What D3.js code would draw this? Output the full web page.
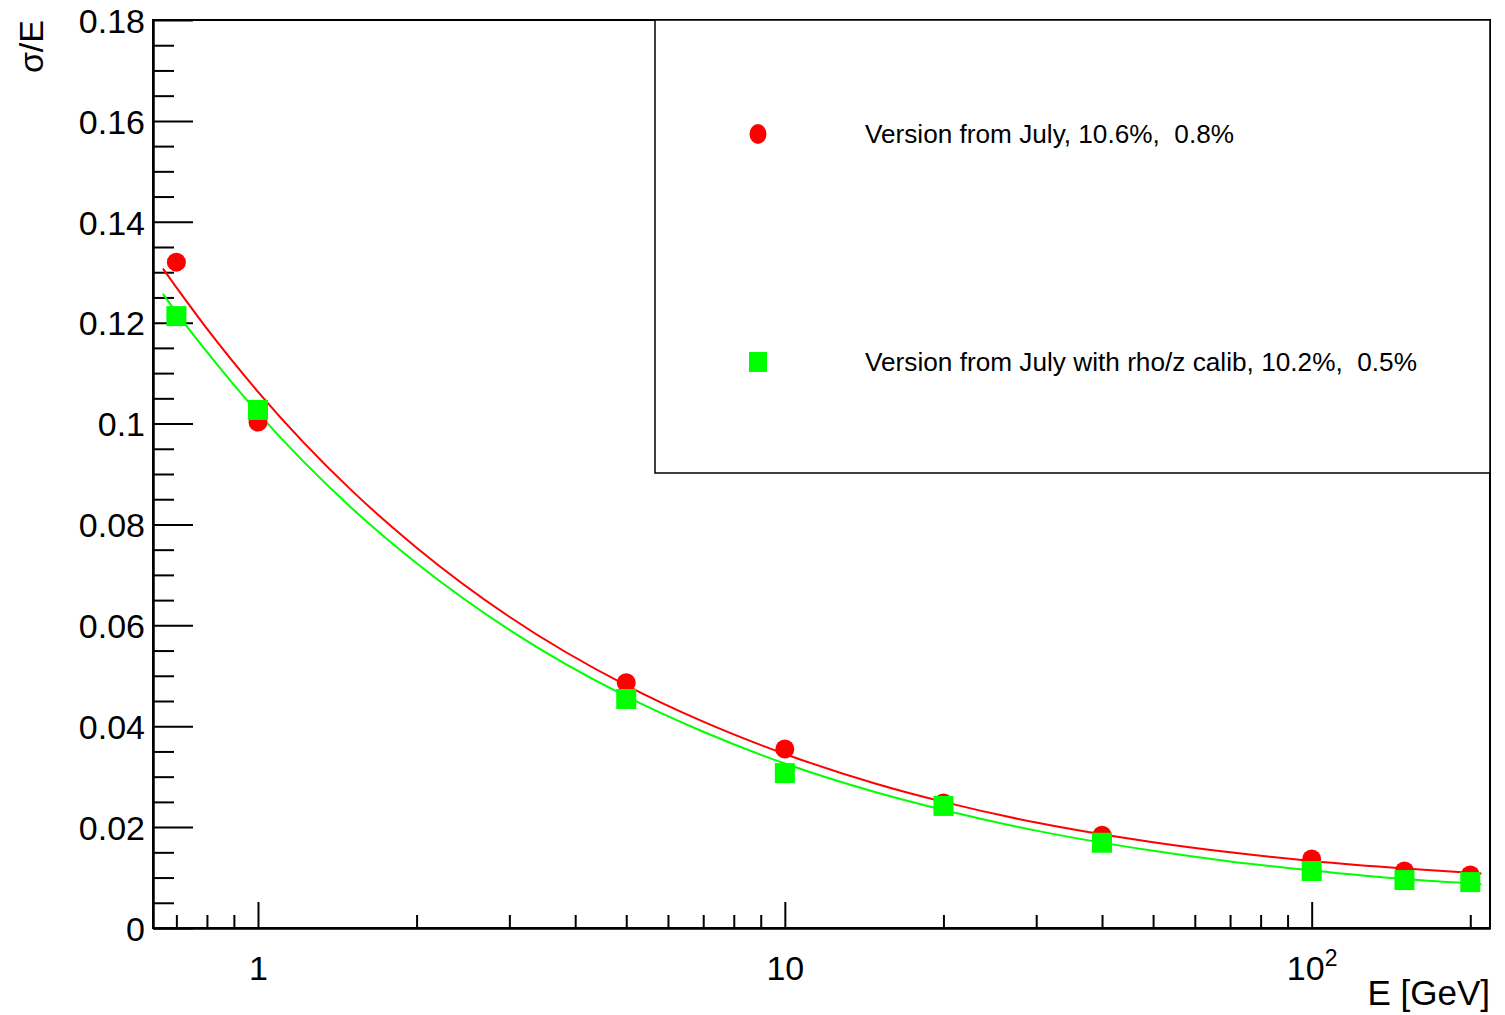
<!DOCTYPE html>
<html>
<head>
    <title>sigma/E vs E</title>
    <script src="https://d3js.org/d3.v7.min.js"></script>
    <style>
        body { margin: 0; background: #fff; }
        text { font-family: "Liberation Sans", Arial, Helvetica, sans-serif; fill: #000; }
        .axis path, .axis line { stroke: #000; stroke-width: 2; }
        .leg text { white-space: pre; }
    </style>
</head>
<body>
    <div id="chart"></div>
    <script>
        // beam energies [GeV]
        const energies = [0.7, 1, 5, 10, 20, 40, 100, 150, 200];
        const julyPoints = [0.1320, 0.1003, 0.0486, 0.0355, 0.0248, 0.0184, 0.0137, 0.0113, 0.0105];
        const rhozPoints = [0.1213, 0.1027, 0.0454, 0.0307, 0.0242, 0.0169, 0.0113, 0.0095, 0.0091];

        // fitted curves
        const curveE = [0.66, 0.7, 0.8, 1, 1.5, 2, 3, 5, 7, 10, 15, 20, 30, 50, 70, 100, 150, 210];
        const julyCurve = [0.1307, 0.1270, 0.1188, 0.1063, 0.0869, 0.0754, 0.0617, 0.0481, 0.0409, 0.0345, 0.0285, 0.0250, 0.0209, 0.0170, 0.0150, 0.0133, 0.0118, 0.0108];
        const rhozCurve = [0.1257, 0.1220, 0.1142, 0.1021, 0.0834, 0.0723, 0.0591, 0.0459, 0.0389, 0.0326, 0.0268, 0.0234, 0.0193, 0.0153, 0.0132, 0.0114, 0.0097, 0.0087];

        const legendLabels = ["Version from July, 10.6%,  0.8%", "Version from July with rho/z calib, 10.2%,  0.5%"];
        const colors = ["#ff0000", "#00ff00"];

        const yMajor = [0, 0.02, 0.04, 0.06, 0.08, 0.1, 0.12, 0.14, 0.16, 0.18];
        const yMajorLabels = ["0", "0.02", "0.04", "0.06", "0.08", "0.1", "0.12", "0.14", "0.16", "0.18"];
        const xMajor = [1, 10, 100];
        const xMinor = [0.7, 0.8, 0.9, 2, 3, 4, 5, 6, 7, 8, 9, 20, 30, 40, 50, 60, 70, 80, 90, 200];

        const W = 1505, H = 1015;
        const pLeft = 153, pRight = 1490, pTop = 20, pBottom = 928;

        const svg = d3.select("#chart").append("svg")
            .attr("width", W).attr("height", H);

        const x = d3.scaleLog().domain([0.632, 218]).range([pLeft, pRight]);
        const y = d3.scaleLinear().domain([0, 0.18]).range([pBottom, pTop]);

        // y axis: minor then major ticks pointing inward
        const yMinor = d3.range(0, 0.1801, 0.005).filter(v => Math.abs(v / 0.02 - Math.round(v / 0.02)) > 1e-6);
        svg.append("g").attr("class", "axis")
            .attr("transform", `translate(${pLeft},0)`)
            .call(d3.axisLeft(y).tickValues(yMinor).tickFormat("").tickSizeInner(-21).tickSizeOuter(0));
        svg.append("g").attr("class", "axis")
            .attr("transform", `translate(${pLeft},0)`)
            .call(d3.axisLeft(y).tickValues(yMajor).tickFormat((d, i) => yMajorLabels[i])
                .tickSizeInner(-40).tickSizeOuter(0).tickPadding(8))
            .call(g => g.selectAll("text").attr("font-size", 34).attr("dy", "0.36em"));

        // x axis
        svg.append("g").attr("class", "axis")
            .attr("transform", `translate(0,${pBottom})`)
            .call(d3.axisBottom(x).tickValues(xMinor).tickFormat("").tickSizeInner(-13).tickSizeOuter(0));
        const xg = svg.append("g").attr("class", "axis")
            .attr("transform", `translate(0,${pBottom})`)
            .call(d3.axisBottom(x).tickValues(xMajor).tickFormat("").tickSizeInner(-26).tickSizeOuter(0));
        xg.selectAll(".tick").append("text")
            .attr("y", 52).attr("text-anchor", "middle").attr("font-size", 34)
            .each(function (d) {
                const t = d3.select(this);
                if (d >= 100) {
                    t.append("tspan").text("10");
                    t.append("tspan").attr("font-size", 23).attr("dy", -14).text(Math.round(Math.log10(d)));
                } else {
                    t.text(d);
                }
            });

        // frame
        svg.append("rect")
            .attr("x", pLeft).attr("y", pTop).attr("width", pRight - pLeft).attr("height", pBottom - pTop)
            .attr("fill", "none").attr("stroke", "#000").attr("stroke-width", 2);

        // axis titles
        svg.append("text")
            .attr("transform", `translate(43,${pTop}) rotate(-90)`)
            .attr("text-anchor", "end").attr("font-size", 34)
            .text("σ/E");
        svg.append("text")
            .attr("x", pRight).attr("y", 1005).attr("text-anchor", "end").attr("font-size", 35)
            .text("E [GeV]");

        // fit curves
        const line = d3.line().x(d => x(d[0])).y(d => y(d[1])).curve(d3.curveMonotoneX);
        [julyCurve, rhozCurve].forEach((c, i) => {
            svg.append("path")
                .attr("d", line(curveE.map((e, j) => [e, c[j]])))
                .attr("fill", "none").attr("stroke", colors[i]).attr("stroke-width", 2);
        });

        // data points
        svg.append("g").selectAll("circle")
            .data(energies.map((e, i) => [e, julyPoints[i]]))
            .join("circle")
            .attr("cx", d => x(d[0])).attr("cy", d => y(d[1])).attr("r", 9.5)
            .attr("fill", colors[0]);
        svg.append("g").selectAll("rect")
            .data(energies.map((e, i) => [e, rhozPoints[i]]))
            .join("rect")
            .attr("x", d => x(d[0]) - 10).attr("y", d => y(d[1]) - 10)
            .attr("width", 20).attr("height", 20)
            .attr("fill", colors[1]);

        // legend
        const leg = svg.append("g").attr("class", "leg");
        leg.append("rect")
            .attr("x", 655).attr("y", pTop).attr("width", pRight - 655).attr("height", 453)
            .attr("fill", "#fff").attr("stroke", "#000").attr("stroke-width", 1.5);
        const rowY = [134, 362];
        leg.append("ellipse").attr("cx", 758).attr("cy", rowY[0]).attr("rx", 8.5).attr("ry", 10)
            .attr("fill", colors[0]);
        leg.append("rect").attr("x", 749).attr("y", rowY[1] - 10).attr("width", 18).attr("height", 20)
            .attr("fill", colors[1]);
        legendLabels.forEach((t, i) => {
            leg.append("text")
                .attr("x", 865).attr("y", rowY[i]).attr("dy", "0.36em")
                .attr("font-size", 25)
                .attr("textLength", i === 0 ? 369 : 552).attr("lengthAdjust", "spacingAndGlyphs")
                .text(t);
        });
    </script>
</body>
</html>
